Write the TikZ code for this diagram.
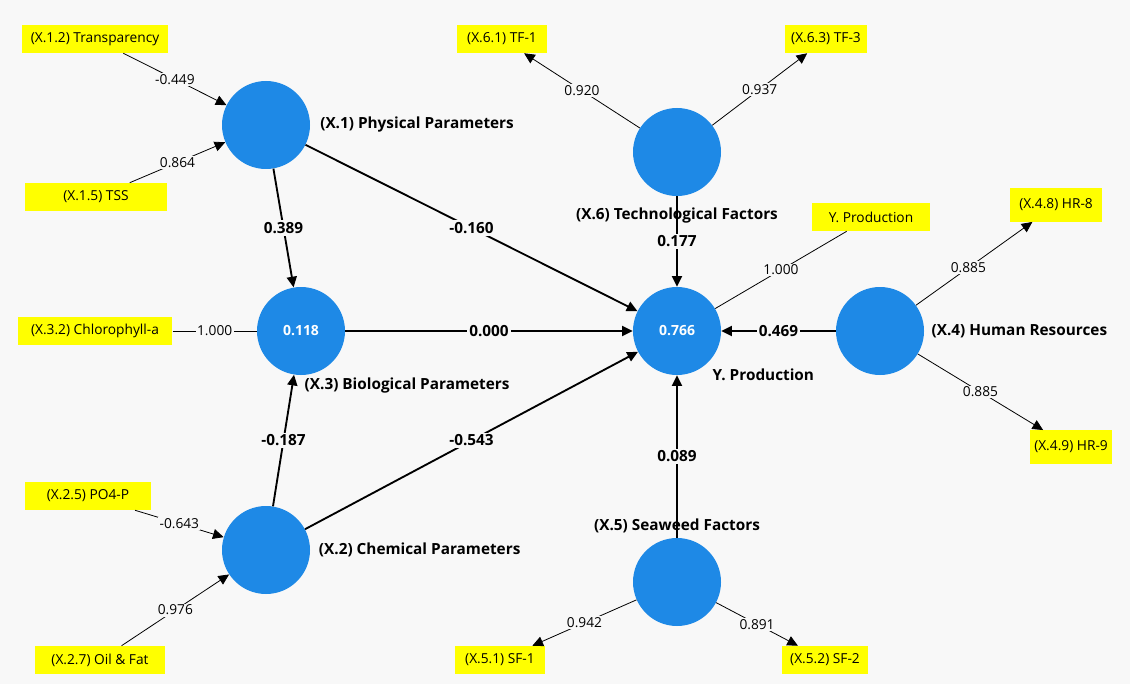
\documentclass[tikz,border=0pt]{standalone}
\usepackage{fontspec}
\setmainfont{Open Sans}
\usepackage{xcolor}
\usepackage{tikz}
\usetikzlibrary{arrows.meta, positioning}
\definecolor{lvazul}{RGB}{30,137,230}
\definecolor{indamarillo}{RGB}{255,255,0}
\definecolor{fondo}{RGB}{248,248,248}

\begin{document}
\begin{tikzpicture}[x=0.75pt, y=-0.75pt,
  latente/.style={circle, fill=lvazul, minimum size=66pt, inner sep=0pt, text=white, font=\fontsize{10.5}{12}\selectfont\bfseries},
  indicador/.style={fill=indamarillo, minimum height=21pt, inner sep=2pt, font=\fontsize{10.3}{12}\selectfont},
  nombre/.style={font=\fontsize{11.5}{13}\selectfont\bfseries},
  carga/.style={draw=black, line width=0.6pt},
  camino/.style={draw=black, line width=1.4pt},
  punta/.style={-{Triangle[length=8pt, width=7.5pt]}},
  valor/.style={fill=fondo, inner sep=1pt, font=\fontsize{10.3}{12}\selectfont},
  valorb/.style={fill=fondo, inner sep=1.5pt, font=\fontsize{11.5}{13}\selectfont\bfseries}]
\fill[fondo] (0,0) rectangle (1130,684);
\useasboundingbox (0,0) rectangle (1130,684);
% Constructos
\node[latente] (x1) at (266,125) {};
\node[latente] (x3) at (301,331) {0.118};
\node[latente] (x2) at (266,550) {};
\node[latente] (y) at (677,331) {0.766};
\node[latente] (x6) at (677,152) {};
\node[latente] (x4) at (880,331) {};
\node[latente] (x5) at (677,582) {};
% Nombres
\node[nombre, right=4pt of x1] (nx1) {(X.1) Physical Parameters};
\node[nombre, anchor=west] (nx3) at (300,386) {(X.3) Biological Parameters};
\node[nombre, right=3pt of x2] (nx2) {(X.2) Chemical Parameters};
\node[nombre, anchor=west] (ny) at (708,375) {Y. Production};
\node[nombre, below=5pt of x6] (nx6) {(X.6) Technological Factors};
\node[nombre, right=2pt of x4] (nx4) {(X.4) Human Resources};
\node[nombre, above=0pt of x5] (nx5) {(X.5) Seaweed Factors};
% Indicadores
\node[indicador, minimum width=109pt] (tr) at (95,39) {(X.1.2) Transparency};
\node[indicador, minimum width=106pt] (tss) at (96,197) {(X.1.5) TSS};
\node[indicador, minimum width=116pt] (chl) at (95,331) {(X.3.2) Chlorophyll-a};
\node[indicador, minimum width=94pt] (po) at (88,496) {(X.2.5) PO4-P};
\node[indicador, minimum width=98pt] (oil) at (100,660) {(X.2.7) Oil \& Fat};
\node[indicador, minimum width=68pt] (tf1) at (502,39) {(X.6.1) TF-1};
\node[indicador, minimum width=62pt] (tf3) at (826,39) {(X.6.3) TF-3};
\node[indicador, minimum width=89pt] (yp) at (871,217) {Y. Production};
\node[indicador, minimum width=69pt, minimum height=25pt] (hr8) at (1056,205) {(X.4.8) HR-8};
\node[indicador, minimum width=62pt, minimum height=25pt] (hr9) at (1071,447) {(X.4.9) HR-9};
\node[indicador, minimum width=68pt] (sf1) at (500,660) {(X.5.1) SF-1};
\node[indicador, minimum width=65pt] (sf2) at (825,660) {(X.5.2) SF-2};
% Cargas
\path[carga]
(tr) edge[punta] node[valor] {-0.449} (x1)
(tss) edge[punta] node[valor] {0.864} (x1)
(chl) edge node[valor] {1.000} (x3)
(po) edge[punta] node[valor] {-0.643} (x2)
(oil) edge[punta] node[valor] {0.976} (x2)
(x6) edge[punta] node[valor] {0.920} (tf1)
(x6) edge[punta] node[valor] {0.937} (tf3)
(y) edge node[valor] {1.000} (yp)
(x4) edge[punta] node[valor, pos=0.45] {0.885} (hr8)
(x4) edge[punta] node[valor] {0.885} (hr9)
(x5) edge[punta] node[valor] {0.942} (sf1)
(x5) edge[punta] node[valor] {0.891} (sf2);
% Caminos
\path[camino]
(x1) edge[punta] node[valorb] {0.389} (x3)
(x1) edge[punta] node[valorb] {-0.160} (y)
(x3) edge[punta] node[valorb] {0.000} (y)
(x2) edge[punta] node[valorb] {-0.187} (x3)
(x2) edge[punta] node[valorb] {-0.543} (y)
(x6) edge[punta] node[valorb] {0.177} (y)
(x4) edge[punta] node[valorb] {0.469} (y)
(x5) edge[punta] node[valorb] {0.089} (y);
\end{tikzpicture}
\end{document}
